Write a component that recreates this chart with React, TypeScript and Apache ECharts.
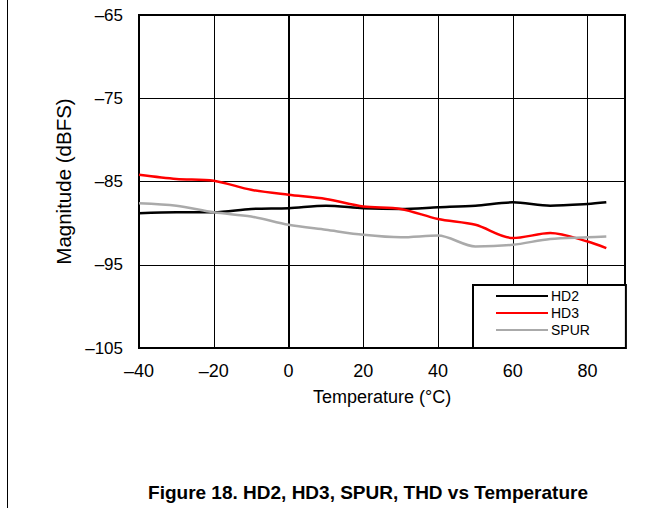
import React, { useEffect, useRef } from "react";
import * as echarts from "echarts";

const temps = [-40, -30, -20, -10, 0, 10, 20, 30, 40, 50, 60, 70, 80, 85];
const hd2 = [-88.8, -88.7, -88.7, -88.3, -88.2, -87.9, -88.2, -88.3, -88.1, -87.9, -87.5, -87.9, -87.7, -87.5];
const hd3 = [-84.2, -84.7, -84.9, -86.0, -86.6, -87.1, -88.0, -88.3, -89.5, -90.2, -91.8, -91.2, -92.2, -93.0];
const spur = [-87.6, -87.9, -88.7, -89.2, -90.2, -90.8, -91.4, -91.7, -91.5, -92.8, -92.6, -91.9, -91.7, -91.6];
const seriesNames = ["HD2", "HD3", "SPUR"];
const seriesColors = ["#000000", "#ff0000", "#aaaaaa"];
const titleText = "Figure 18. HD2, HD3, SPUR, THD vs Temperature";

const fmt = (v: number) => (v < 0 ? "\u2013" + Math.abs(v) : String(v));
const FONT = "'Liberation Sans', Arial, sans-serif";

export default function App() {
  const ref = useRef<HTMLDivElement>(null);
  useEffect(() => {
    if (!ref.current) return;
    const chart = echarts.init(ref.current, null, { renderer: "svg" });
    const data = [hd2, hd3, spur];
    chart.setOption({
      animation: false,
      backgroundColor: "#ffffff",
      textStyle: { fontFamily: FONT },
      grid: {
        left: 139,
        top: 15,
        right: 44,
        bottom: 160,
        show: true,
        borderColor: "#000",
        borderWidth: 2,
      },
      xAxis: {
        type: "value",
        min: -40,
        max: 90,
        interval: 20,
        name: "Temperature (\u00b0C)",
        nameLocation: "middle",
        nameGap: 40,
        nameTextStyle: { fontSize: 18, color: "#000", fontFamily: FONT },
        axisLine: { show: true, lineStyle: { color: "#000", width: 2 } },
        axisTick: { show: false },
        axisLabel: {
          fontSize: 18,
          color: "#000",
          margin: 14,
          showMaxLabel: false,
          fontFamily: FONT,
          formatter: (v: number) => (v > 80 ? "" : fmt(v)),
        },
        splitLine: { show: true, lineStyle: { color: "#000", width: 1 } },
      },
      yAxis: {
        type: "value",
        min: -105,
        max: -65,
        interval: 10,
        name: "Magnitude (dBFS)",
        nameLocation: "middle",
        nameGap: 61,
        nameTextStyle: { fontSize: 20.5, color: "#000", fontFamily: FONT },
        axisLine: { show: true, lineStyle: { color: "#000", width: 2 } },
        axisTick: { show: false },
        axisLabel: { fontSize: 17, color: "#000", margin: 16, formatter: fmt, fontFamily: FONT },
        splitLine: { show: true, lineStyle: { color: "#000", width: 1 } },
      },
      legend: {
        orient: "vertical",
        left: 473,
        top: 285,
        icon: "rect",
        itemWidth: 52,
        itemHeight: 2,
        itemGap: 3,
        padding: [4, 36, 11, 23],
        borderColor: "#000",
        borderWidth: 2,
        backgroundColor: "#fff",
        textStyle: { fontSize: 14, color: "#000", padding: [0, 0, 0, -2], fontFamily: FONT },
        data: seriesNames,
      },
      series: seriesNames.map((n, i) => ({
        name: n,
        type: "line",
        data: temps.map((t, j) => [t, data[i][j]]),
        symbol: "none",
        smooth: 0.3,
        lineStyle: { color: seriesColors[i], width: 2.5 },
        itemStyle: { color: seriesColors[i] },
      })),
      graphic: [
        {
          type: "line",
          shape: { x1: 7.5, y1: 0, x2: 7.5, y2: 508 },
          style: { stroke: "#000", lineWidth: 1 },
        },
        {
          type: "text",
          x: 368,
          y: 492,
          style: {
            text: titleText,
            fontSize: 19,
            fontWeight: "bold",
            fill: "#000",
            align: "center",
            verticalAlign: "middle",
            fontFamily: FONT,
          },
        },
      ],
    });
    return () => chart.dispose();
  }, []);
  return (
    <div
      ref={ref}
      style={{ position: "fixed", left: 0, top: 0, width: 669, height: 508 }}
    />
  );
}
